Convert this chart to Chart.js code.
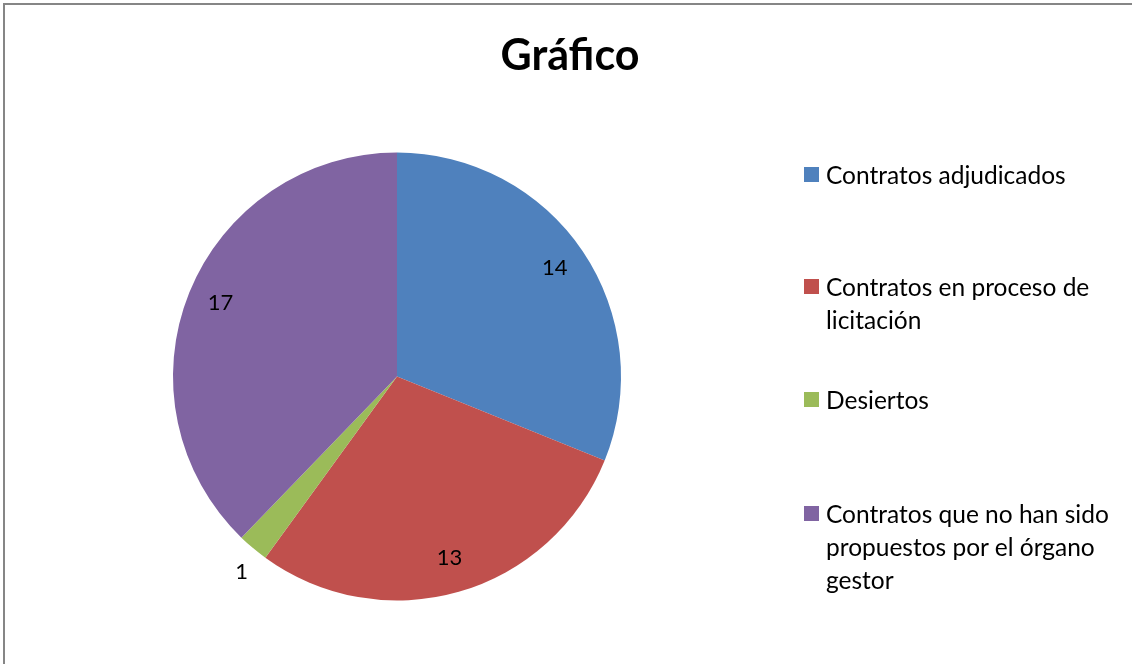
<!DOCTYPE html>
<html>
<head>
<meta charset="utf-8">
<script src="https://cdn.jsdelivr.net/npm/chart.js@4/dist/chart.umd.min.js"></script>
<style>
    html, body { margin: 0; padding: 0; background: #fff; overflow: hidden; }
    body { width: 1132px; height: 664px; position: relative; font-family: Lato, "Open Sans", sans-serif; color: #000; }
    #wrap { position: absolute; left: 0; top: 0; width: 1132px; height: 664px; }
    #title { position: absolute; left: 0; width: 1140px; top: 29px; line-height: 50px; text-align: center; font-weight: bold; font-size: 43px; }
    .legend-item { position: absolute; left: 804px; font-size: 24.5px; line-height: 33px; }
    .legend-item .box { position: absolute; left: 0; top: 9px; width: 15px; height: 15px; }
    .legend-item .text { margin-left: 22px; white-space: nowrap; }
</style>
</head>
<body>
<div id="wrap"><canvas id="pieChart"></canvas></div>
<div id="title"></div>
<div id="legend"></div>

<script>
    'use strict';

    // Datos del gráfico
    const chartTitle = 'Gráfico';
    const categories = [
        ['Contratos adjudicados'],
        ['Contratos en proceso de', 'licitación'],
        ['Desiertos'],
        ['Contratos que no han sido', 'propuestos por el órgano', 'gestor']
    ];
    const values = [14, 13, 1, 17];
    const colors = ['#4F81BD', '#C0504D', '#9BBB59', '#8064A2'];
    const legendTops = [158, 270, 383, 497];

    // Marco gris del área del gráfico (solo se ven los bordes superior e izquierdo)
    const chartFrame = {
        id: 'chartFrame',
        beforeDraw(chart) {
            const ctx = chart.ctx;
            ctx.save();
            ctx.fillStyle = '#868686';
            ctx.fillRect(3, 3, chart.width - 3, 2);
            ctx.fillRect(3, 3, 2, chart.height - 3);
            ctx.restore();
        }
    };

    // Etiquetas de valor sobre cada porción
    const sliceLabels = {
        id: 'sliceLabels',
        afterDatasetsDraw(chart) {
            const ctx = chart.ctx;
            const meta = chart.getDatasetMeta(0);
            const data = chart.data.datasets[0].data;
            const total = data.reduce((a, b) => a + b, 0);
            ctx.save();
            ctx.font = '22px Lato, "Open Sans", sans-serif';
            ctx.fillStyle = '#000';
            ctx.textAlign = 'center';
            ctx.textBaseline = 'middle';
            meta.data.forEach((arc, i) => {
                const p = arc.getProps(['x', 'y', 'startAngle', 'endAngle', 'outerRadius'], true);
                const mid = (p.startAngle + p.endAngle) / 2;
                const outside = data[i] / total < 0.05;
                const r = outside ? p.outerRadius * 1.12 : p.outerRadius * 0.85;
                const a = outside ? mid - 0.03 : mid;
                ctx.fillText(String(data[i]), p.x + Math.cos(a) * r, p.y + Math.sin(a) * r - 2);
            });
            ctx.restore();
        }
    };

    function initChart() {
        const ctx = document.getElementById('pieChart');
        new Chart(ctx, {
            type: 'pie',
            data: {
                labels: categories.map(c => c.join(' ')),
                datasets: [{
                    data: values,
                    backgroundColor: colors,
                    borderWidth: 0,
                    radius: 224
                }]
            },
            options: {
                responsive: true,
                maintainAspectRatio: false,
                animation: false,
                events: [],
                layout: {
                    padding: { left: 173, right: 511, top: 152.5, bottom: 63.5 }
                },
                plugins: {
                    legend: { display: false },
                    title: { display: false },
                    tooltip: { enabled: false }
                }
            },
            plugins: [chartFrame, sliceLabels]
        });
    }

    // Leyenda en HTML (permite varias líneas)
    function initLegend() {
        const legend = document.getElementById('legend');
        categories.forEach((lines, i) => {
            const item = document.createElement('div');
            item.className = 'legend-item';
            item.style.top = legendTops[i] + 'px';
            const box = document.createElement('span');
            box.className = 'box';
            box.style.background = colors[i];
            const text = document.createElement('div');
            text.className = 'text';
            lines.forEach((l, j) => {
                if (j > 0) text.appendChild(document.createElement('br'));
                text.appendChild(document.createTextNode(l));
            });
            item.appendChild(box);
            item.appendChild(text);
            legend.appendChild(item);
        });
    }

    document.getElementById('title').textContent = chartTitle;
    initChart();
    initLegend();
</script>
</body>
</html>
